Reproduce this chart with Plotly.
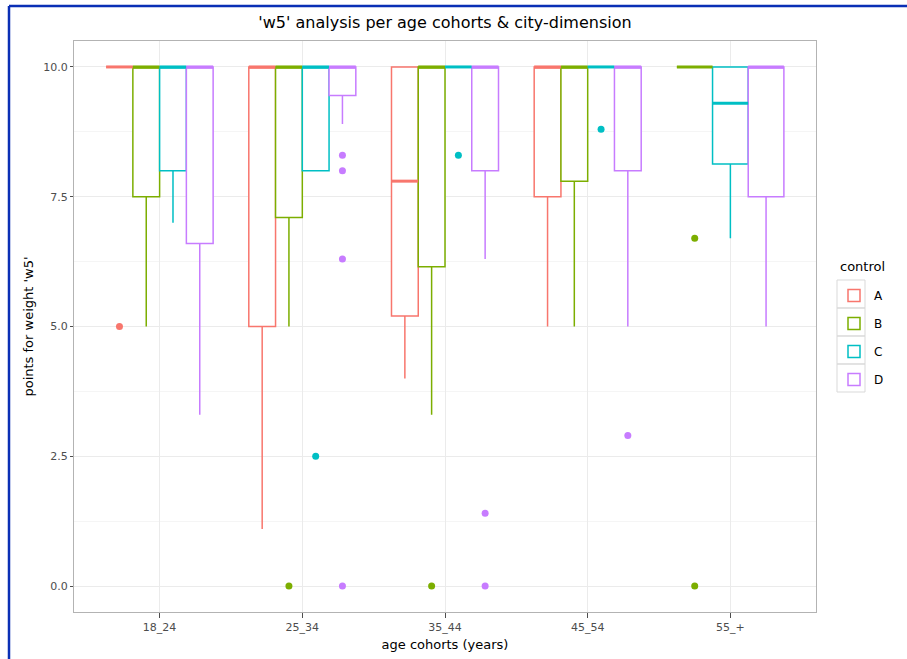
import plotly.graph_objects as go

# Age cohorts on the x axis and the control groups dodged within each cohort
cohorts = ["18_24", "25_34", "35_44", "45_54", "55_+"]
groups = ["A", "B", "C", "D"]
colors = {"A": "#F8766D", "B": "#7CAE00", "C": "#00BFC4", "D": "#C77CFF"}

# Box statistics per control group (None = no observations in that cohort)
q1 = {
    "A": [10.0, 5.0, 5.2, 7.5, None],
    "B": [7.5, 7.1, 6.15, 7.8, 10.0],
    "C": [8.0, 8.0, 10.0, 10.0, 8.13],
    "D": [6.6, 9.45, 8.0, 8.0, 7.5],
}
median = {
    "A": [10.0, 10.0, 7.8, 10.0, None],
    "B": [10.0, 10.0, 10.0, 10.0, 10.0],
    "C": [10.0, 10.0, 10.0, 10.0, 9.3],
    "D": [10.0, 10.0, 10.0, 10.0, 10.0],
}
q3 = {
    "A": [10.0, 10.0, 10.0, 10.0, None],
    "B": [10.0, 10.0, 10.0, 10.0, 10.0],
    "C": [10.0, 10.0, 10.0, 10.0, 10.0],
    "D": [10.0, 10.0, 10.0, 10.0, 10.0],
}
lower = {
    "A": [10.0, 1.1, 4.0, 5.0, None],
    "B": [5.0, 5.0, 3.3, 5.0, 10.0],
    "C": [7.0, 8.0, 10.0, 10.0, 6.7],
    "D": [3.3, 8.9, 6.3, 5.0, 5.0],
}
upper = {
    "A": [10.0, 10.0, 10.0, 10.0, None],
    "B": [10.0, 10.0, 10.0, 10.0, 10.0],
    "C": [10.0, 10.0, 10.0, 10.0, 10.0],
    "D": [10.0, 10.0, 10.0, 10.0, 10.0],
}
outliers = {
    "A": [[5.0], [], [], [], []],
    "B": [[], [0.0], [0.0], [], [6.7, 0.0]],
    "C": [[], [2.5], [8.3], [8.8], []],
    "D": [[], [8.3, 8.0, 6.3, 0.0], [1.4, 0.0], [2.9], []],
}
y_ticks = [0.0, 2.5, 5.0, 7.5, 10.0]
y_minor = [1.25, 3.75, 6.25, 8.75]

DODGE = 0.75
FONT = "DejaVu Sans"

# plot-area geometry in pixels (used to place page-level decorations)
W, H = 907, 659
L, R, T, B = 74, 91, 41, 47
PW, PH = W - L - R, H - T - B


def px(x):
    return (x - L) / PW


def py(y):
    return (H - B - y) / PH


fig = go.Figure()
legend_done = set()

for j, cohort in enumerate(cohorts):
    present = [g for g in groups if q1[g][j] is not None]
    n = len(present)
    w = DODGE / n
    for k, g in enumerate(present):
        cx = j + (k - (n - 1) / 2) * w
        col = colors[g]
        fig.add_trace(go.Box(
            x=[cx], q1=[q1[g][j]], median=[median[g][j]], q3=[q3[g][j]],
            lowerfence=[lower[g][j]], upperfence=[upper[g][j]],
            width=w, whiskerwidth=0, boxpoints=False,
            line=dict(color=col, width=1.5), fillcolor="white",
            name=g, legendgroup=g, showlegend=g not in legend_done,
            hoverinfo="skip",
        ))
        legend_done.add(g)
        # thicker median bar
        fig.add_trace(go.Scatter(
            x=[cx - w / 2, cx + w / 2], y=[median[g][j]] * 2, mode="lines",
            line=dict(color=col, width=3), showlegend=False,
            legendgroup=g, hoverinfo="skip",
        ))
        if outliers[g][j]:
            fig.add_trace(go.Scatter(
                x=[cx] * len(outliers[g][j]), y=outliers[g][j], mode="markers",
                marker=dict(color=col, size=7), showlegend=False,
                legendgroup=g, hoverinfo="skip",
            ))

# legend key frames
key_shapes = []
for i in range(len(groups)):
    key_shapes.append(dict(
        type="rect", xref="paper", yref="paper",
        x0=px(837), x1=px(865), y0=py(280 + 28 * i), y1=py(308 + 28 * i),
        line=dict(color="#D9D9D9", width=1), fillcolor="rgba(0,0,0,0)",
        layer="below",
    ))

fig.update_layout(
    width=W, height=H,
    margin=dict(l=L, r=R, t=T, b=B, autoexpand=False),
    paper_bgcolor="white", plot_bgcolor="white",
    font=dict(family=FONT, color="black"),
    title=dict(text="'w5' analysis per age cohorts & city-dimension",
               x=(L + W - R) / 2 / W, xanchor="center", y=1 - 22 / H,
               yanchor="middle", font=dict(size=16, family=FONT)),
    xaxis=dict(
        range=[-0.6, 4.6], tickvals=list(range(len(cohorts))), ticktext=cohorts,
        showgrid=True, gridcolor="#EBEBEB", gridwidth=1, zeroline=False,
        showline=True, mirror=True, linecolor="#B3B3B3", linewidth=1,
        ticks="outside", ticklen=5, tickcolor="#4D4D4D", automargin=False,
        tickfont=dict(size=11, color="#4D4D4D"),
        title=dict(text="age cohorts (years)", font=dict(size=13), standoff=6),
    ),
    yaxis=dict(
        range=[-0.5, 10.5], tickvals=y_ticks, ticktext=[f"{v:.1f}" for v in y_ticks],
        showgrid=True, gridcolor="#EBEBEB", gridwidth=1, zeroline=False,
        showline=True, mirror=True, linecolor="#B3B3B3", linewidth=1,
        ticks="outside", ticklen=3, tickcolor="#4D4D4D", automargin=False,
        tickfont=dict(size=11, color="#4D4D4D"),
        minor=dict(tickvals=y_minor, showgrid=True, gridcolor="#F5F5F5",
                   gridwidth=1, ticks=""),
        title=dict(text="points for weight 'w5'", font=dict(size=13), standoff=6),
    ),
    legend=dict(
        x=px(834), xanchor="left", y=py(281), yanchor="top",
        font=dict(size=12), tracegroupgap=9, traceorder="grouped",
        bgcolor="rgba(0,0,0,0)",
    ),
    annotations=[dict(
        text="control", xref="paper", yref="paper", x=px(838), y=py(266),
        xanchor="left", yanchor="middle", showarrow=False,
        font=dict(size=13, family=FONT, color="black"),
    )],
    shapes=key_shapes + [
        dict(type="line", xref="paper", yref="paper",
             x0=px(9), x1=px(W), y0=py(6), y1=py(6),
             line=dict(color="#0A2FB5", width=2.5), layer="above"),
        dict(type="line", xref="paper", yref="paper",
             x0=px(9), x1=px(9), y0=py(6), y1=py(H),
             line=dict(color="#0A2FB5", width=2.5), layer="above"),
    ],
)

fig.write_html("out.html")
